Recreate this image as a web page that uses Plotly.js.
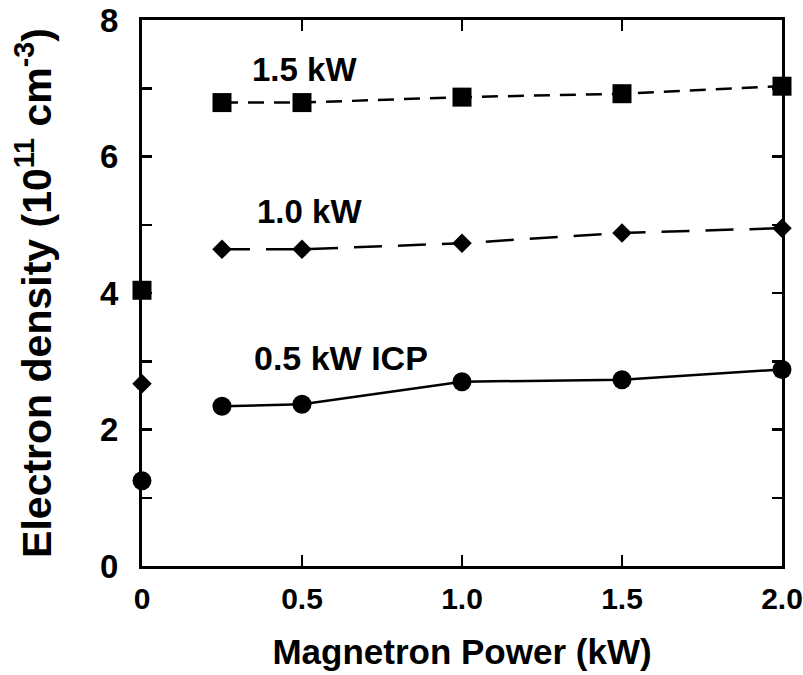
<!DOCTYPE html>
<html>
<head>
<meta charset="utf-8">
<script src="https://cdn.plot.ly/plotly-3.0.1.min.js"></script>
<style>html,body{margin:0;padding:0;background:#fff;}#chart{width:803px;height:675px;}</style>
</head>
<body>
<div id="chart"></div>
<script>
// Magnetron power (kW) where the line series were measured
const powerX = [0.25, 0.5, 1.0, 1.5, 2.0];
// Electron density (1e11 cm^-3)
const icp15 = [6.79, 6.79, 6.87, 6.92, 7.03];
const icp10 = [4.64, 4.64, 4.73, 4.88, 4.95];
const icp05 = [2.34, 2.37, 2.70, 2.73, 2.88];
// ICP-only values at 0 kW magnetron power
const zeroX = [0];
const zero15 = [4.04];
const zero10 = [2.67];
const zero05 = [1.25];
// Series labels
const labels = ["1.5 kW", "1.0 kW", "0.5 kW ICP"];
// Axis ticks
const xTickVals = [0, 0.5, 1.0, 1.5, 2.0];
const xTickText = ["0", "0.5", "1.0", "1.5", "2.0"];
const yTickVals = [0, 2, 4, 6, 8];
const yTickText = ["0", "2", "4", "6", "8"];

const black = "#000";
const traces = [
  {x: powerX, y: icp15, mode: "lines+markers", line: {color: black, width: 2.5, dash: "16px,10px"},
   marker: {symbol: "square", size: 19, color: black}, cliponaxis: false, name: labels[0]},
  {x: zeroX, y: zero15, mode: "markers", marker: {symbol: "square", size: 19, color: black}, cliponaxis: false, name: labels[0] + " (0 kW)"},
  {x: powerX, y: icp10, mode: "lines+markers", line: {color: black, width: 2.5, dash: "28px,16px"},
   marker: {symbol: "diamond", size: 15, color: black}, cliponaxis: false, name: labels[1]},
  {x: zeroX, y: zero10, mode: "markers", marker: {symbol: "diamond", size: 15, color: black}, cliponaxis: false, name: labels[1] + " (0 kW)"},
  {x: powerX, y: icp05, mode: "lines+markers", line: {color: black, width: 2.5},
   marker: {symbol: "circle", size: 19, color: black}, cliponaxis: false, name: labels[2]},
  {x: zeroX, y: zero05, mode: "markers", marker: {symbol: "circle", size: 19, color: black}, cliponaxis: false, name: labels[2] + " (0 kW)"}
];

const font = "Liberation Sans, Arial, sans-serif";
const layout = {
  width: 803, height: 675,
  margin: {l: 142, r: 21, t: 20, b: 109},
  paper_bgcolor: "#fff", plot_bgcolor: "#fff",
  showlegend: false,
  font: {family: font, color: black},
  xaxis: {
    range: [0, 2], tickvals: xTickVals, ticktext: xTickText,
    ticks: "inside", ticklen: 11, tickwidth: 2.5, tickcolor: black,
    showline: true, linewidth: 3, linecolor: black, mirror: "ticks",
    showgrid: false, zeroline: false,
    tickfont: {family: font, size: 30, weight: "bold"},
    ticklabelstandoff: 4, ticklabeloverflow: "allow",
    title: {text: "<b>Magnetron Power (kW)</b>", font: {size: 35, family: font}, standoff: 26}
  },
  yaxis: {
    range: [0, 8], tickvals: yTickVals, ticktext: yTickText,
    ticks: "inside", ticklen: 10, tickwidth: 2.5, tickcolor: black,
    minor: {dtick: 1, ticks: "inside", ticklen: 10, tickwidth: 2.5, tickcolor: black, showgrid: false},
    showline: true, linewidth: 3, linecolor: black, mirror: "ticks",
    showgrid: false, zeroline: false,
    tickfont: {family: font, size: 33, weight: "bold"},
    ticklabelstandoff: 14,
    title: {text: "<b>Electron density (10<sup>11</sup> cm<sup>-3</sup>)</b>", font: {size: 41, family: font}, standoff: 36}
  },
  annotations: [
    {xref: "x", yref: "y", x: 0.3375, y: 7.28, text: "<b>" + labels[0] + "</b>", showarrow: false, xanchor: "left", font: {size: 33}},
    {xref: "x", yref: "y", x: 0.353, y: 5.19, text: "<b>" + labels[1] + "</b>", showarrow: false, xanchor: "left", font: {size: 33}},
    {xref: "x", yref: "y", x: 0.345, y: 3.05, text: "<b>" + labels[2] + "</b>", showarrow: false, xanchor: "left", font: {size: 34}}
  ]
};

Plotly.newPlot("chart", traces, layout, {displayModeBar: false, staticPlot: true});
</script>
</body>
</html>
